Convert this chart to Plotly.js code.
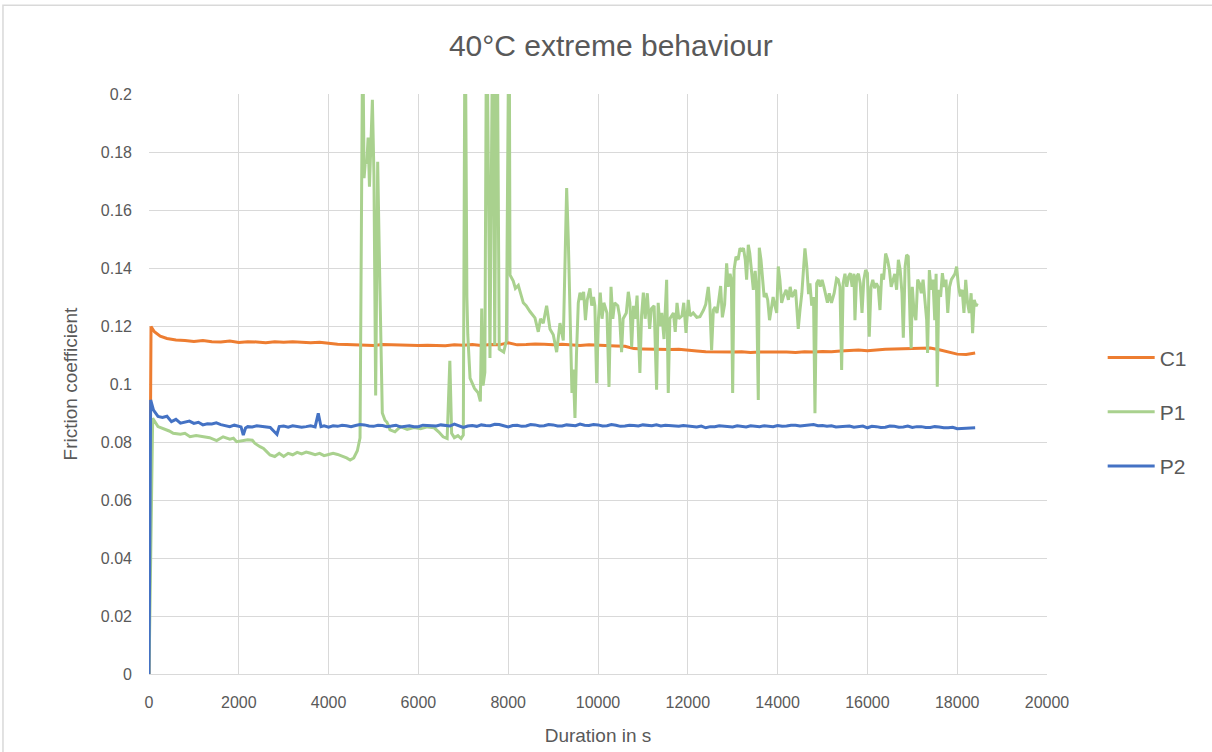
<!DOCTYPE html>
<html>
<head>
<meta charset="utf-8">
<script src="https://cdn.plot.ly/plotly-3.0.1.min.js"></script>
<style>
  html, body { margin: 0; padding: 0; background: #ffffff; }
  #chart { width: 1212px; height: 752px; }
</style>
</head>
<body>
<div id="chart"></div>
<script>
// ---- Data ----
const chartTitle = "40°C extreme behaviour";
const xAxisTitle = "Duration in s";
const yAxisTitle = "Friction coefficient";
const seriesNames = ["C1", "P1", "P2"];
const xTickVals = [0, 2000, 4000, 6000, 8000, 10000, 12000, 14000, 16000, 18000, 20000];
const yTickVals = [0, 0.02, 0.04, 0.06, 0.08, 0.1, 0.12, 0.14, 0.16, 0.18, 0.2];

// C1
const c1Time = [0, 45, 120, 250, 400, 600, 800, 1000, 1200, 1400, 1600, 1800, 2000, 2200, 2400, 2600, 2800, 3000, 3200, 3400, 3600, 3800, 4000, 4200, 4400, 4600, 4800, 5000, 5200, 5400, 5600, 5800, 6000, 6200, 6400, 6600, 6800, 7000, 7200, 7400, 7600, 7800, 8000, 8200, 8400, 8600, 8800, 9000, 9200, 9400, 9600, 9800, 10000, 10200, 10400, 10600, 10800, 11000, 11200, 11400, 11600, 11800, 12000, 12200, 12400, 12600, 12800, 13000, 13200, 13400, 13600, 13800, 14000, 14200, 14400, 14600, 14800, 15000, 15200, 15400, 15600, 15800, 16000, 16200, 16400, 16600, 16800, 17000, 17200, 17400, 17600, 17800, 18000, 18200, 18400];
const c1Value = [0, 0.1198, 0.1180, 0.1165, 0.1157, 0.1152, 0.1150, 0.1147, 0.1150, 0.1146, 0.1145, 0.1148, 0.1143, 0.1146, 0.1145, 0.1142, 0.1146, 0.1144, 0.1146, 0.1143, 0.1142, 0.1144, 0.1140, 0.1137, 0.1136, 0.1135, 0.1136, 0.1133, 0.1136, 0.1135, 0.1134, 0.1133, 0.1133, 0.1134, 0.1133, 0.1132, 0.1135, 0.1134, 0.1136, 0.1133, 0.1136, 0.1135, 0.1142, 0.1135, 0.1136, 0.1138, 0.1137, 0.1135, 0.1137, 0.1134, 0.1133, 0.1135, 0.1133, 0.1132, 0.1131, 0.1130, 0.1122, 0.1121, 0.1120, 0.1121, 0.1119, 0.1120, 0.1118, 0.1114, 0.1111, 0.1110, 0.1111, 0.1110, 0.1111, 0.1109, 0.1110, 0.1111, 0.1110, 0.1110, 0.1109, 0.1111, 0.1110, 0.1112, 0.1111, 0.1114, 0.1116, 0.1117, 0.1115, 0.1118, 0.1120, 0.1121, 0.1122, 0.1121, 0.1123, 0.1124, 0.1118, 0.1110, 0.1103, 0.1102, 0.1107];

// P1
const p1Time = [0, 82, 200, 320, 450, 540, 700, 800, 913, 1050, 1200, 1350, 1507, 1650, 1800, 1880, 1952, 2100, 2200, 2300, 2361, 2472, 2550, 2621, 2695, 2800, 2900, 3000, 3100, 3200, 3300, 3400, 3500, 3600, 3700, 3800, 3900, 4000, 4100, 4200, 4300, 4400, 4480, 4560, 4640, 4700, 4760, 4790, 4820, 4850, 4880, 4910, 4975, 5010, 5048, 5093, 5144, 5196, 5256, 5300, 5367, 5420, 5478, 5600, 5750, 5900, 6050, 6200, 6350, 6450, 6550, 6640, 6700, 6740, 6800, 6880, 6950, 7000, 7040, 7080, 7100, 7150, 7250, 7330, 7380, 7410, 7440, 7480, 7520, 7594, 7660, 7700, 7750, 7800, 7900, 7960, 8020, 8040, 8113, 8160, 8225, 8336, 8400, 8485, 8540, 8596, 8670, 8720, 8781, 8856, 8930, 9004, 9079, 9120, 9153, 9227, 9302, 9338, 9380, 9420, 9450, 9487, 9520, 9561, 9600, 9640, 9680, 9720, 9760, 9821, 9860, 9900, 9930, 9970, 10010, 10050, 10090, 10130, 10200, 10245, 10290, 10330, 10370, 10440, 10480, 10525, 10560, 10630, 10675, 10710, 10750, 10790, 10830, 10870, 10933, 10970, 11010, 11050, 11098, 11150, 11190, 11250, 11305, 11340, 11380, 11420, 11470, 11529, 11565, 11600, 11680, 11720, 11760, 11800, 11870, 11910, 11960, 12010, 12050, 12120, 12200, 12271, 12350, 12400, 12456, 12490, 12530, 12570, 12610, 12650, 12690, 12731, 12770, 12820, 12865, 12900, 12940, 12970, 12999, 13030, 13073, 13120, 13162, 13200, 13240, 13280, 13310, 13347, 13380, 13420, 13460, 13500, 13530, 13570, 13592, 13630, 13700, 13740, 13780, 13820, 13860, 13900, 13940, 13980, 14015, 14050, 14090, 14130, 14190, 14240, 14280, 14320, 14400, 14460, 14500, 14540, 14570, 14609, 14650, 14690, 14720, 14760, 14800, 14832, 14870, 14910, 14950, 14990, 15030, 15070, 15110, 15150, 15200, 15260, 15314, 15350, 15389, 15426, 15460, 15500, 15540, 15580, 15620, 15660, 15700, 15723, 15760, 15800, 15840, 15880, 15920, 15960, 16000, 16041, 16080, 16120, 16160, 16200, 16240, 16280, 16320, 16360, 16406, 16450, 16490, 16530, 16570, 16610, 16650, 16690, 16730, 16770, 16800, 16840, 16873, 16910, 16950, 16975, 17000, 17040, 17080, 17120, 17160, 17200, 17240, 17280, 17320, 17340, 17380, 17420, 17460, 17500, 17530, 17556, 17590, 17630, 17670, 17710, 17750, 17790, 17830, 17870, 17910, 17950, 17987, 18030, 18070, 18110, 18150, 18190, 18230, 18270, 18310, 18343, 18380, 18420, 18447];
const p1Value = [0, 0.0882, 0.0853, 0.0846, 0.0838, 0.0830, 0.0827, 0.0830, 0.0818, 0.0822, 0.0818, 0.0815, 0.0805, 0.0818, 0.0810, 0.0813, 0.0801, 0.0806, 0.0808, 0.0806, 0.0795, 0.0784, 0.0778, 0.0767, 0.0755, 0.0750, 0.0761, 0.0750, 0.0761, 0.0756, 0.0764, 0.0759, 0.0765, 0.0761, 0.0756, 0.0761, 0.0753, 0.0757, 0.0761, 0.0757, 0.0752, 0.0745, 0.0738, 0.0745, 0.0770, 0.0814, 0.2250, 0.1710, 0.1770, 0.1760, 0.1850, 0.1680, 0.1980, 0.1720, 0.0960, 0.1766, 0.1320, 0.0900, 0.0875, 0.0868, 0.0842, 0.0838, 0.0835, 0.0853, 0.0843, 0.0850, 0.0846, 0.0852, 0.0849, 0.0835, 0.0818, 0.0812, 0.1080, 0.0830, 0.0815, 0.0822, 0.0812, 0.0824, 0.2400, 0.1300, 0.1170, 0.1020, 0.0985, 0.0970, 0.0940, 0.1260, 0.0995, 0.1040, 0.2400, 0.1090, 0.2400, 0.1134, 0.2400, 0.1120, 0.1110, 0.1150, 0.2400, 0.1376, 0.1355, 0.1330, 0.1340, 0.1280, 0.1270, 0.1250, 0.1240, 0.1228, 0.1180, 0.1225, 0.1210, 0.1270, 0.1190, 0.1170, 0.1110, 0.1180, 0.1210, 0.1150, 0.1676, 0.1500, 0.1163, 0.0969, 0.1050, 0.0883, 0.1100, 0.1280, 0.1315, 0.1290, 0.1318, 0.1220, 0.1290, 0.1330, 0.1270, 0.1300, 0.1270, 0.1003, 0.1225, 0.1315, 0.1225, 0.1280, 0.1245, 0.0990, 0.1335, 0.1225, 0.1280, 0.1270, 0.1235, 0.1110, 0.1225, 0.1245, 0.1318, 0.1280, 0.1128, 0.1270, 0.1225, 0.1305, 0.1038, 0.1235, 0.1315, 0.1225, 0.1313, 0.1190, 0.1260, 0.1270, 0.0980, 0.1280, 0.1200, 0.1245, 0.1155, 0.1359, 0.0969, 0.1225, 0.1245, 0.1180, 0.1280, 0.1225, 0.1235, 0.1280, 0.1176, 0.1290, 0.1235, 0.1245, 0.1230, 0.1232, 0.1255, 0.1275, 0.1335, 0.1275, 0.1117, 0.1255, 0.1265, 0.1245, 0.1290, 0.1338, 0.1230, 0.1275, 0.1416, 0.1335, 0.1380, 0.1360, 0.0969, 0.1393, 0.1439, 0.1428, 0.1468, 0.1462, 0.1468, 0.1428, 0.1360, 0.1480, 0.1451, 0.1382, 0.1325, 0.1390, 0.1336, 0.0945, 0.1470, 0.1428, 0.1300, 0.1313, 0.1290, 0.1220, 0.1270, 0.1300, 0.1270, 0.1245, 0.1405, 0.1360, 0.1280, 0.1302, 0.1325, 0.1290, 0.1335, 0.1300, 0.1325, 0.1190, 0.1257, 0.1313, 0.1380, 0.1468, 0.1405, 0.1310, 0.1347, 0.1270, 0.1300, 0.0899, 0.1347, 0.1359, 0.1336, 0.1359, 0.1336, 0.1313, 0.1280, 0.1313, 0.1280, 0.1313, 0.1364, 0.1360, 0.1335, 0.1048, 0.1347, 0.1380, 0.1335, 0.1370, 0.1382, 0.1335, 0.1380, 0.1220, 0.1370, 0.1380, 0.1347, 0.1245, 0.1360, 0.1393, 0.1382, 0.1163, 0.1335, 0.1359, 0.1330, 0.1347, 0.1335, 0.1255, 0.1380, 0.1360, 0.1450, 0.1428, 0.1393, 0.1335, 0.1360, 0.1380, 0.1325, 0.1428, 0.1393, 0.1313, 0.1160, 0.1405, 0.1445, 0.1440, 0.1220, 0.1123, 0.1335, 0.1245, 0.1220, 0.1360, 0.1347, 0.1313, 0.1360, 0.1290, 0.1220, 0.1107, 0.1393, 0.1325, 0.1360, 0.1220, 0.1380, 0.0991, 0.1325, 0.1300, 0.1382, 0.1335, 0.1360, 0.1245, 0.1335, 0.1360, 0.1370, 0.1380, 0.1405, 0.1335, 0.1302, 0.1325, 0.1245, 0.1359, 0.1280, 0.1245, 0.1313, 0.1175, 0.1290, 0.1268, 0.1278];

// P2
const p2Time = [0, 37, 100, 200, 300, 400, 500, 600, 700, 800, 900, 1000, 1100, 1200, 1300, 1400, 1500, 1600, 1700, 1800, 1900, 1950, 2050, 2100, 2150, 2200, 2300, 2400, 2500, 2600, 2700, 2850, 2900, 3000, 3100, 3200, 3300, 3400, 3500, 3600, 3700, 3770, 3830, 3900,
  4000, 4100, 4200, 4300, 4400, 4500, 4600, 4700, 4800, 4900, 5000, 5100, 5200, 5300, 5400, 5500, 5600, 5700, 5800, 5900, 6000, 6100, 6200, 6300, 6400, 6500, 6600, 6700, 6800, 6900, 7000, 7100, 7200, 7300, 7400, 7500, 7600, 7700, 7800, 7900, 8000, 8100, 8200, 8300, 8400, 8500, 8600, 8700, 8800, 8900, 9000, 9100, 9200, 9300, 9400, 9500, 9600, 9700, 9800, 9900, 10000, 10100, 10200, 10300, 10400, 10500, 10600, 10700, 10800, 10900, 11000, 11100, 11200, 11300, 11400, 11500, 11600, 11700, 11800, 11900, 12000, 12100, 12200, 12300, 12400, 12500, 12600, 12700, 12800, 12900, 13000, 13100, 13200, 13300, 13400, 13500, 13600, 13700, 13800, 13900, 14000, 14100, 14200, 14300, 14400, 14500, 14600, 14700, 14800, 14900, 15000, 15100, 15200, 15300, 15400, 15500, 15600, 15700, 15800, 15900, 16000, 16100, 16200, 16300, 16400, 16500, 16600, 16700, 16800, 16900, 17000, 17100, 17200, 17300, 17400, 17500, 17600, 17700, 17800, 17900, 18000, 18100, 18200, 18300, 18400];
const p2Value = [0, 0.0945, 0.0910, 0.0888, 0.0885, 0.0889, 0.0870, 0.0878, 0.0865, 0.0868, 0.0872, 0.0864, 0.0868, 0.0859, 0.0863, 0.0862, 0.0866, 0.0860, 0.0857, 0.0853, 0.0858, 0.0856, 0.0852, 0.0824, 0.0848, 0.0853, 0.0852, 0.0856, 0.0854, 0.0851, 0.0850, 0.0826, 0.0853, 0.0855, 0.0851, 0.0856, 0.0854, 0.0851, 0.0853, 0.0856, 0.0852, 0.0899, 0.0853, 0.0856,
  0.0851, 0.0856, 0.0854, 0.0858, 0.0856, 0.0853, 0.0857, 0.0860, 0.0859, 0.0855, 0.0854, 0.0858, 0.0857, 0.0853, 0.0855, 0.0858, 0.0852, 0.0855, 0.0856, 0.0853, 0.0853, 0.0858, 0.0857, 0.0854, 0.0855, 0.0859, 0.0858, 0.0855, 0.0862, 0.0857, 0.0850, 0.0855, 0.0857, 0.0854, 0.0859, 0.0857, 0.0856, 0.0861, 0.0860, 0.0856, 0.0852, 0.0857, 0.0858, 0.0854, 0.0855, 0.0860, 0.0859, 0.0855, 0.0856, 0.0860, 0.0859, 0.0855, 0.0855, 0.0859, 0.0858, 0.0856, 0.0862, 0.0858, 0.0857, 0.0860, 0.0859, 0.0855, 0.0856, 0.0860, 0.0858, 0.0854, 0.0855, 0.0858, 0.0857, 0.0855, 0.0859, 0.0857, 0.0856, 0.0859, 0.0855, 0.0858, 0.0857, 0.0854, 0.0854, 0.0857, 0.0856, 0.0853, 0.0852, 0.0855, 0.0849, 0.0853, 0.0853, 0.0856, 0.0855, 0.0852, 0.0852, 0.0856, 0.0854, 0.0852, 0.0856, 0.0854, 0.0853, 0.0856, 0.0855, 0.0853, 0.0857, 0.0854, 0.0855, 0.0858, 0.0858, 0.0855, 0.0857, 0.0859, 0.0860, 0.0856, 0.0857, 0.0854, 0.0856, 0.0852, 0.0853, 0.0856, 0.0855, 0.0851, 0.0852, 0.0855, 0.0849, 0.0854, 0.0853, 0.0850, 0.0851, 0.0855, 0.0854, 0.0851, 0.0852, 0.0855, 0.0850, 0.0853, 0.0853, 0.0850, 0.0850, 0.0853, 0.0852, 0.0849, 0.0849, 0.0851, 0.0846, 0.0847, 0.0846, 0.0848, 0.0849];

const seriesColors = ["#ED7D31", "#A9D18E", "#4472C4"];

// ---- Chart ----
const FONT = "'Liberation Sans', Arial, sans-serif";
const GREY = "#595959";
const GRID = "#D9D9D9";

const times = [c1Time, p1Time, p2Time];
const values = [c1Value, p1Value, p2Value];

const traces = seriesNames.map((name, i) => ({
  type: "scatter",
  mode: "lines",
  name: name,
  x: times[i],
  y: values[i],
  legendgroup: name,
  line: { color: seriesColors[i], width: 3, shape: "linear" },
  hoverinfo: "x+y+name"
}));

const layout = {
  width: 1212,
  height: 752,
  paper_bgcolor: "#ffffff",
  plot_bgcolor: "#ffffff",
  margin: { l: 149, r: 165, t: 94, b: 78, pad: 0 },
  font: { family: FONT, color: GREY, size: 16 },
  title: {
    text: chartTitle,
    font: { family: FONT, size: 30, color: GREY },
    x: 0.504, xref: "container", xanchor: "center",
    y: 0.939, yref: "container", yanchor: "middle"
  },
  showlegend: true,
  legend: {
    x: 1.062, xanchor: "left",
    y: 0.452, yanchor: "middle",
    font: { family: FONT, size: 21, color: GREY },
    tracegroupgap: 24,
    itemwidth: 47,
    bgcolor: "rgba(0,0,0,0)"
  },
  xaxis: {
    range: [0, 20000],
    tickvals: xTickVals,
    tickformat: "d",
    showgrid: true,
    gridcolor: GRID,
    gridwidth: 1,
    zeroline: false,
    showline: true,
    linecolor: GRID,
    linewidth: 1,
    ticks: "",
    ticklabelstandoff: 14,
    tickfont: { family: FONT, size: 16, color: GREY },
    title: { text: xAxisTitle, font: { family: FONT, size: 19, color: GREY }, standoff: 18 }
  },
  yaxis: {
    range: [0, 0.2],
    tickvals: yTickVals,
    showgrid: true,
    gridcolor: GRID,
    gridwidth: 1,
    zeroline: false,
    showline: false,
    ticks: "",
    ticklabelstandoff: 16,
    tickfont: { family: FONT, size: 16, color: GREY },
    title: { text: yAxisTitle, font: { family: FONT, size: 19, color: GREY }, standoff: 18 }
  },
  shapes: [
    {
      type: "rect", xref: "paper", yref: "paper",
      x0: -0.1626, x1: 1.19, y0: -0.145, y1: 1.153,
      line: { color: GRID, width: 1.5 },
      fillcolor: "rgba(0,0,0,0)",
      layer: "below"
    }
  ]
};

Plotly.newPlot("chart", traces, layout, { displayModeBar: false, staticPlot: true });
</script>
</body>
</html>
